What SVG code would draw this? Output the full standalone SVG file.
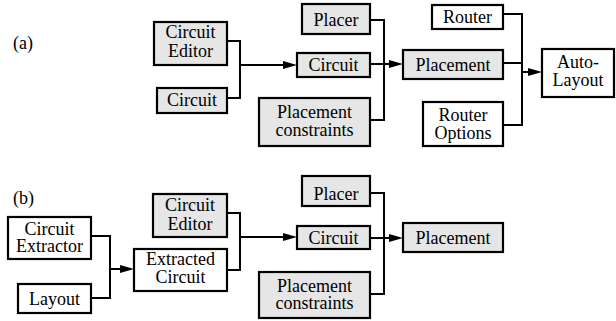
<svg xmlns="http://www.w3.org/2000/svg" width="616" height="321" viewBox="0 0 616 321">
<style>
  .g rect { fill: #e6e6e6; stroke: #000; stroke-width: 2.2; }
  .w rect { fill: #fff; stroke: #000; stroke-width: 2.2; }
  text { font-size: 18px; fill: #000; text-anchor: middle; }
  .lbl { text-anchor: start; }
  #connectors path { fill: none; stroke: #000; stroke-width: 2; }
  #connectors path.arr { marker-end: url(#ah); }
</style>
<defs>
  <marker id="ah" markerUnits="userSpaceOnUse" markerWidth="16" markerHeight="10" refX="4" refY="4" orient="auto">
    <path d="M0,0 L14,4 L0,8 z" fill="#000"/>
  </marker>
</defs>
<rect width="616" height="321" fill="#fff"/>

<g font-family="Liberation Serif, DejaVu Serif, serif">
<text class="lbl" x="13" y="49">(a)</text>
<text class="lbl" x="13" y="204">(b)</text>

<g id="connectors">
  <path d="M227,41 H240 V98 H227"/>
  <path class="arr" d="M240,65 H287"/>
  <path d="M370,20 H384 V120 H370"/>
  <path class="arr" d="M370,64 H393"/>
  <path d="M503,14 H522 V125 H503"/>
  <path d="M503,63 H522"/>
  <path class="arr" d="M522,72 H532"/>
  <path d="M91,236 H110 V298 H91"/>
  <path class="arr" d="M110,269 H124"/>
  <path d="M227,213 H240 V270 H227"/>
  <path class="arr" d="M240,237 H287"/>
  <path d="M370,193 H384 V294 H370"/>
  <path class="arr" d="M370,238 H393"/>
</g>

<g id="a-circuit-editor" class="g"><rect x="154" y="22" width="73" height="43"/><text x="190.5" y="38">Circuit</text><text x="190.5" y="56.5">Editor</text></g>
<g id="a-circuit-in" class="g"><rect x="157" y="88" width="70" height="25"/><text x="192" y="106">Circuit</text></g>
<g id="a-circuit" class="g"><rect x="297" y="53" width="73" height="24"/><text x="333.5" y="71">Circuit</text></g>
<g id="a-placer" class="g"><rect x="302" y="4" width="68" height="30"/><text x="336" y="25.5">Placer</text></g>
<g id="a-constraints" class="g"><rect x="259" y="98" width="111" height="48"/><text x="314.5" y="118">Placement</text><text x="314.5" y="135.5">constraints</text></g>
<g id="a-placement" class="g"><rect x="403" y="50" width="100" height="29"/><text x="453" y="71">Placement</text></g>
<g id="a-router" class="w"><rect x="432" y="5" width="71" height="24"/><text x="467.5" y="23">Router</text></g>
<g id="a-router-options" class="w"><rect x="423" y="102" width="80" height="44"/><text x="463" y="120.5">Router</text><text x="463" y="138.5">Options</text></g>
<g id="a-autolayout" class="w"><rect x="542" y="49" width="72" height="48"/><text x="578" y="67.5">Auto-</text><text x="578" y="86">Layout</text></g>

<g id="b-extractor" class="w"><rect x="8" y="217" width="83" height="42"/><text x="49.5" y="235">Circuit</text><text x="49.5" y="252">Extractor</text></g>
<g id="b-layout" class="w"><rect x="18" y="284" width="73" height="29"/><text x="54.5" y="304.5">Layout</text></g>
<g id="b-circuit-editor" class="g"><rect x="153" y="194" width="74" height="43"/><text x="190" y="211">Circuit</text><text x="190" y="229.5">Editor</text></g>
<g id="b-extracted" class="w"><rect x="134" y="249" width="93" height="42"/><text x="180.5" y="265">Extracted</text><text x="180.5" y="283">Circuit</text></g>
<g id="b-circuit" class="g"><rect x="297" y="226" width="73" height="23"/><text x="333.5" y="243.5">Circuit</text></g>
<g id="b-placer" class="g"><rect x="302" y="176" width="68" height="30"/><text x="336" y="199.5">Placer</text></g>
<g id="b-constraints" class="g"><rect x="259" y="272" width="111" height="46"/><text x="314.5" y="291.5">Placement</text><text x="314.5" y="308.5">constraints</text></g>
<g id="b-placement" class="g"><rect x="403" y="223" width="100" height="29"/><text x="453" y="244">Placement</text></g>
</g>
</svg>
